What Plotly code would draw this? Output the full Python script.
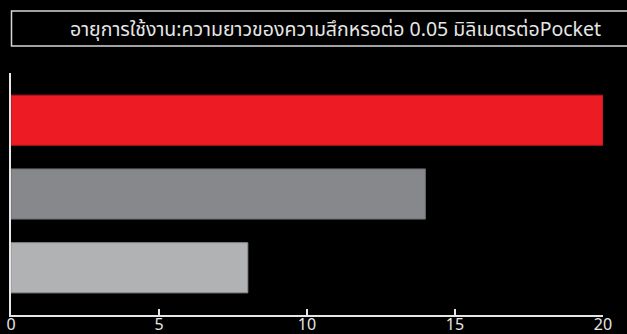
import plotly.graph_objects as go

categories = ["Pocket A", "Pocket B", "Pocket C"]
values = [20, 14, 8]
bar_colors = ["#ED1C24", "#87888C", "#B1B2B4"]
line_colors = ["#B0141A", "#6A6B6E", "#8E8F91"]
x_ticks = [0, 5, 10, 15, 20]
title_text = "อายุการใช้งาน:ความยาวของความสึกหรอต่อ 0.05 มิลิเมตรต่อPocket"

W, H = 627, 334
L, R, T, B = 10.5, 24, 73, 19
plot_w = W - L - R
plot_h = H - T - B

def px_x(p):
    return (p - L) / plot_w

def px_y(p):
    return (H - B - p) / plot_h

FONT = "Noto Sans, Noto Sans Thai, Tahoma, sans-serif"

fig = go.Figure(go.Bar(
    y=categories, x=values, orientation="h",
    marker=dict(color=bar_colors, line=dict(color=line_colors, width=1)),
    width=0.68,
))

fig.update_layout(
    width=W, height=H,
    margin=dict(l=L, r=R, t=T, b=B, pad=0, autoexpand=False),
    paper_bgcolor="black", plot_bgcolor="black",
    showlegend=False,
    font=dict(family=FONT, color="#E6E6E6"),
    xaxis=dict(
        range=[0, 20], tickvals=x_ticks, showgrid=False, zeroline=False,
        showline=True, linecolor="#E6E6E6", linewidth=2,
        ticks="inside", ticklen=6, tickwidth=2, tickcolor="#E6E6E6",
        tickfont=dict(size=16, color="#E6E6E6"), automargin=False,
        ticklabelstandoff=-6,
    ),
    yaxis=dict(
        type="category", range=[2.64, -0.64], showgrid=False, zeroline=False,
        showline=True, linecolor="#E6E6E6", linewidth=2,
        ticks="", ticklabelstandoff=10, automargin=False,
        tickfont=dict(size=15, color="#E6E6E6"),
    ),
    shapes=[dict(
        type="rect", xref="paper", yref="paper",
        x0=px_x(11), x1=px_x(662), y0=px_y(46), y1=px_y(11),
        line=dict(color="#D8D8D8", width=1.5), fillcolor="rgba(0,0,0,0)",
    )],
    annotations=[dict(
        text=title_text, xref="paper", yref="paper",
        x=px_x(335), y=px_y(29), xanchor="center", yanchor="middle",
        showarrow=False, font=dict(size=19.5, color="#E6E6E6", family=FONT),
    )],
)

fig.write_html("out.html")
